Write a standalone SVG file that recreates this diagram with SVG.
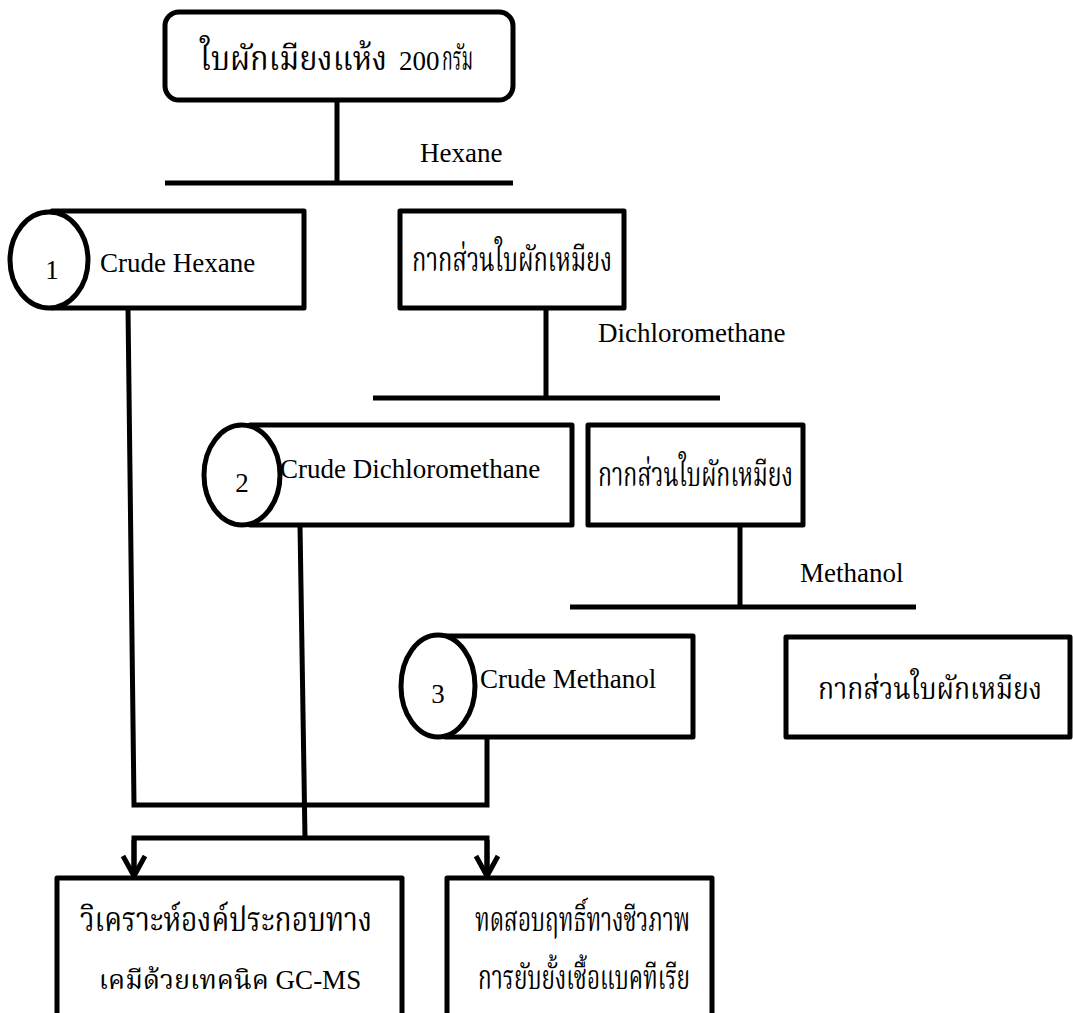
<svg xmlns="http://www.w3.org/2000/svg" width="1073" height="1013" viewBox="0 0 1073 1013">
<defs>
<style>
.b{fill:#fff;stroke:#000;stroke-width:5;stroke-linejoin:round}
.l{fill:none;stroke:#000;stroke-width:5}
.t{font-family:"Liberation Serif","Noto Serif Thai","Noto Sans Thai",serif;font-size:27px;fill:#000}
.th{font-size:33px}
.c{text-anchor:middle}
</style>
<marker id="ah" markerWidth="24" markerHeight="24" viewBox="0 0 24 24" refX="20" refY="11" orient="auto" markerUnits="userSpaceOnUse" style="overflow:visible">
<path d="M0,0 L20,11 L0,22" fill="none" stroke="#000" stroke-width="5" stroke-linejoin="miter"/>
</marker>
</defs>
<rect width="1073" height="1013" fill="#fff"/>
<g id="connectors">
<path class="l" d="M337,100 V183 M165,183 H513"/>
<path class="l" d="M546,308 V398 M373,398 H720"/>
<path class="l" d="M740,525 V607 M570,607 H916"/>
<path class="l" d="M128,308 L134,805 H487 V737"/>
<path class="l" d="M300,525 L305,838"/>
<path class="l" d="M134,876 V838 H487 V876"/>
<path class="l" d="M134,840 V876" marker-end="url(#ah)"/>
<path class="l" d="M487,840 V876" marker-end="url(#ah)"/>
</g>
<g id="start">
<rect class="b" x="165" y="12" width="348" height="88" rx="14"/>
<text class="t th" x="200" y="70" textLength="187" lengthAdjust="spacingAndGlyphs">ใบผักเมียงแห้ง</text>
<text class="t" x="399" y="70">200</text>
<text class="t th" x="442" y="70" textLength="31" lengthAdjust="spacingAndGlyphs">กรัม</text>
</g>
<text class="t" x="420" y="162">Hexane</text>
<text class="t" x="598" y="342">Dichloromethane</text>
<text class="t" x="800" y="582">Methanol</text>
<g id="crude1">
<rect class="b" x="52" y="211" width="252" height="97"/>
<ellipse class="b" cx="49" cy="260" rx="39" ry="48"/>
<text class="t c" x="52" y="279">1</text>
<text class="t" x="100" y="272">Crude Hexane</text>
</g>
<g id="residue1">
<rect class="b" x="400" y="211" width="224" height="97"/>
<text class="t th" x="412" y="271" textLength="200" lengthAdjust="spacingAndGlyphs">กากส่วนใบผักเหมียง</text>
</g>
<g id="crude2">
<rect class="b" x="250" y="425" width="322" height="100"/>
<ellipse class="b" cx="242" cy="475" rx="38" ry="50"/>
<text class="t c" x="242" y="492">2</text>
<text class="t" x="280" y="478">Crude Dichloromethane</text>
</g>
<g id="residue2">
<rect class="b" x="588" y="425" width="215" height="100"/>
<text class="t th" x="598" y="486" textLength="195" lengthAdjust="spacingAndGlyphs">กากส่วนใบผักเหมียง</text>
</g>
<g id="crude3">
<rect class="b" x="445" y="636" width="248" height="101"/>
<ellipse class="b" cx="438" cy="686" rx="37" ry="51"/>
<text class="t c" x="438" y="703">3</text>
<text class="t" x="480" y="688">Crude Methanol</text>
</g>
<g id="residue3">
<rect class="b" x="786" y="637" width="284" height="100"/>
<text class="t" x="818" y="699" style="font-size:30px" textLength="224" lengthAdjust="spacingAndGlyphs">กากส่วนใบผักเหมียง</text>
</g>
<g id="gcms">
<rect class="b" x="57" y="878" width="345" height="150"/>
<text class="t th" x="80" y="931" textLength="292" lengthAdjust="spacingAndGlyphs">วิเคราะห์องค์ประกอบทาง</text>
<text class="t c" x="230" y="989">เคมีด้วยเทคนิค GC-MS</text>
</g>
<g id="bio">
<rect class="b" x="447" y="878" width="265" height="150"/>
<text class="t th" x="475" y="931" textLength="215" lengthAdjust="spacingAndGlyphs">ทดสอบฤทธิ์ทางชีวภาพ</text>
<text class="t th" x="478" y="989" textLength="212" lengthAdjust="spacingAndGlyphs">การยับยั้งเชื้อแบคทีเรีย</text>
</g>
</svg>
